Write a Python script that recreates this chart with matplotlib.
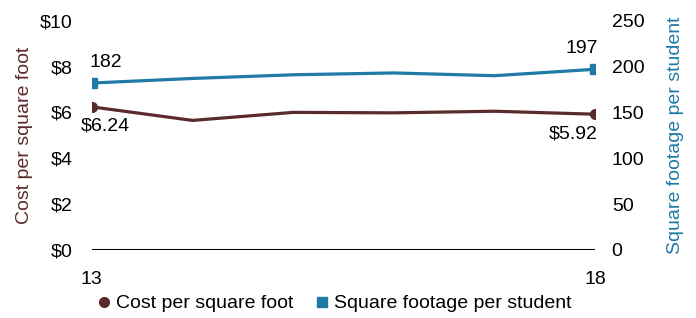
import matplotlib.pyplot as plt
from matplotlib.lines import Line2D

plt.rcParams['font.family'] = ['Liberation Sans', 'DejaVu Sans']

# Data
years = [13, 14, 15, 16, 17, 18]
cost = [6.24, 5.65, 6.00, 5.98, 6.05, 5.92]
sqft = [182, 187, 191, 193, 190, 197]
cost_ticks = [0, 2, 4, 6, 8, 10]
sqft_ticks = [0, 50, 100, 150, 200, 250]

c_cost = "#5b2a2d"
c_sqft = "#1f7aa6"
fs = 14

fig = plt.figure(figsize=(6.96, 3.18), dpi=100)
ax = fig.add_axes([0.132, 0.214, 0.723, 0.721])
ax2 = ax.twinx()

ax.plot(years, cost, color=c_cost, lw=2.3, marker="o", ms=7, markevery=[0, 5], zorder=3)
ax2.plot(years, sqft, color=c_sqft, lw=2.3, marker="s", ms=6.5, markevery=[0, 5], zorder=3)

ax.set_xlim(13, 18)
ax.set_ylim(0, 10)
ax2.set_ylim(0, 250)

for a in (ax, ax2):
    for s in a.spines.values():
        s.set_visible(False)
ax.axhline(0, color="black", lw=1.5, zorder=2)

ax.set_xticks([13, 18])
ax.set_xticklabels(["13", "18"])
ax.set_yticks(cost_ticks)
ax.set_yticklabels(["$%d" % v for v in cost_ticks])
ax2.set_yticks(sqft_ticks)
ax.tick_params(axis="y", length=0, pad=14, labelsize=fs)
ax.tick_params(axis="x", length=0, pad=15, labelsize=fs)
ax2.tick_params(axis="y", length=0, pad=12, labelsize=fs)

ax.set_ylabel("Cost per square foot", color=c_cost, fontsize=fs, labelpad=5)
ax2.set_ylabel("Square footage per student", color=c_sqft, fontsize=fs, labelpad=16)

# end labels
ax2.annotate("%d" % sqft[0], (years[0], sqft[0]), xytext=(-2, 9), textcoords="offset points",
             ha="left", va="bottom", fontsize=fs)
ax2.annotate("%d" % sqft[-1], (years[-1], sqft[-1]), xytext=(2, 9), textcoords="offset points",
             ha="right", va="bottom", fontsize=fs)
ax.annotate("$%.2f" % cost[0], (years[0], cost[0]), xytext=(-8, -8), textcoords="offset points",
            ha="left", va="top", fontsize=fs)
ax.annotate("$%.2f" % cost[-1], (years[-1], cost[-1]), xytext=(2, -8), textcoords="offset points",
            ha="right", va="top", fontsize=fs)

handles = [Line2D([], [], color=c_cost, marker="o", ls="none", ms=7),
           Line2D([], [], color=c_sqft, marker="s", ls="none", ms=6.5)]
fig.legend(handles, ["Cost per square foot", "Square footage per student"], ncol=2,
           loc="center", bbox_to_anchor=(0.478, 0.045), frameon=False, fontsize=fs,
           handletextpad=0.1, columnspacing=1.0, handlelength=1.0)

fig.savefig("out.png", dpi=100)
